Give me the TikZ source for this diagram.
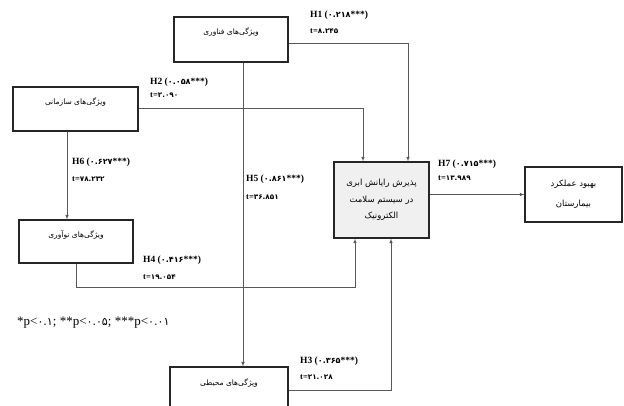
\documentclass[tikz,border=0pt]{standalone}
\usepackage{fontspec}
\setmainfont{Liberation Serif}
\newfontfamily\farsi[Script=Arabic]{DejaVu Sans}
\newfontfamily\farsidig[Script=Arabic, Scale=0.85]{DejaVu Sans}
\TeXXeTstate=1
\def\pdig#1{{\farsidig #1}}
\tikzset{
	factor/.style={draw=black!85, line width=1.1pt, inner sep=3pt, text height=15pt, font=\farsi\fontsize{7.5}{9}\selectfont},
	hub/.style={draw=black!85, line width=1.1pt, fill=black!6, align=center, font=\farsi\fontsize{8.5}{16.5}\selectfont},
	link/.style={draw=black!65, line width=0.6pt, -latex},
	hyplabel/.style={anchor=west, inner sep=0pt, font=\bfseries\fontsize{9.5}{11}\selectfont},
	tlabel/.style={anchor=west, inner sep=0pt, font=\bfseries\fontsize{8.5}{10}\selectfont},
}

\begin{document}
\begin{tikzpicture}[x=1pt, y=-1pt]
			%%%%% START %%%%%
			\clip (0, 0) rectangle (624, 406);
			\fill[white] (0, 0) rectangle (624, 406);
			
			\node[factor, minimum width=114pt, text depth=24pt] (tech) at (231, 39.5) {\beginR ویژگی‌های فناوری\endR};
			\node[factor, minimum width=125pt, text depth=23pt] (org) at (75.5, 109) {\beginR ویژگی‌های سازمانی\endR};
			\node[factor, minimum width=114pt, text depth=22pt] (innov) at (76, 241.5) {\beginR ویژگی‌های نوآوری\endR};
			\node[factor, minimum width=118pt, text depth=25pt] (env) at (229, 390) {\beginR ویژگی‌های محیطی\endR};
			
			\node[hub, minimum width=95pt, minimum height=76pt] (adopt) at (381.5, 200) {\beginR پذیرش رایانش ابری\endR\\ \beginR در سیستم سلامت\endR\\ \beginR الکترونیک\endR};
			\node[draw=black!85, line width=1.1pt, align=center, font=\farsi\fontsize{8.5}{20}\selectfont, minimum width=97pt, minimum height=55pt] (hosp) at (573.5, 194.5) {\beginR بهبود عملکرد\endR\\ \beginR بیمارستان\endR};
			
			\draw[link] ([yshift=-3.5pt]tech.east) -| ([xshift=26.5pt]adopt.north);
			\draw[link] ([xshift=12pt]tech.south) -- ([xshift=12pt]tech.south |- env.north);
			\draw[link] ([yshift=1pt]org.east) -| ([xshift=-18.5pt]adopt.north);
			\draw[link] ([xshift=-8.5pt]org.south) -- ([xshift=-8.5pt]org.south |- innov.north);
			\draw[link] (innov.south) -- ++(0, 24) -| ([xshift=-26.5pt]adopt.south);
			\draw[link] (env.east) -| ([xshift=9.5pt]adopt.south);
			\draw[link] (hosp.west -| adopt.east) -- (hosp.west);
			
			\node[hyplabel] (h1) at (310, 15) {H1 (\pdig{۰.۲۱۸}***)};
			\node[tlabel] (t1) at (310, 31) {t=\pdig{۸.۲۴۵}};
			\node[hyplabel] (h2) at (150, 82) {H2 (\pdig{۰.۰۵۸}***)};
			\node[tlabel] (t2) at (150, 95) {t=\pdig{۲.۰۹۰}};
			\node[hyplabel] (h6) at (72, 162) {H6 (\pdig{۰.۶۲۷}***)};
			\node[tlabel] (t6) at (72, 179) {t=\pdig{۷۸.۲۳۲}};
			\node[hyplabel] (h5) at (246, 179) {H5 (\pdig{۰.۸۶۱}***)};
			\node[tlabel] (t5) at (246, 197) {t=\pdig{۳۶.۸۵۱}};
			\node[hyplabel] (h4) at (143, 260) {H4 (\pdig{۰.۴۱۶}***)};
			\node[tlabel] (t4) at (143, 277) {t=\pdig{۱۹.۰۵۴}};
			\node[hyplabel] (h7) at (438, 164) {H7 (\pdig{۰.۷۱۵}***)};
			\node[tlabel] (t7) at (438, 178) {t=\pdig{۱۳.۹۸۹}};
			\node[hyplabel] (h3) at (300, 361) {H3 (\pdig{۰.۳۶۵}***)};
			\node[tlabel] (t3) at (300, 377) {t=\pdig{۲۱.۰۲۸}};
			
			\node[anchor=west, inner sep=0pt, font=\fontsize{13}{15}\selectfont] (note) at (17, 323) {*p<\pdig{۰.۱}; **p<\pdig{۰.۰۵}; ***p<\pdig{۰.۰۱}};
			%%%%% END %%%%%
\end{tikzpicture}
\end{document}
